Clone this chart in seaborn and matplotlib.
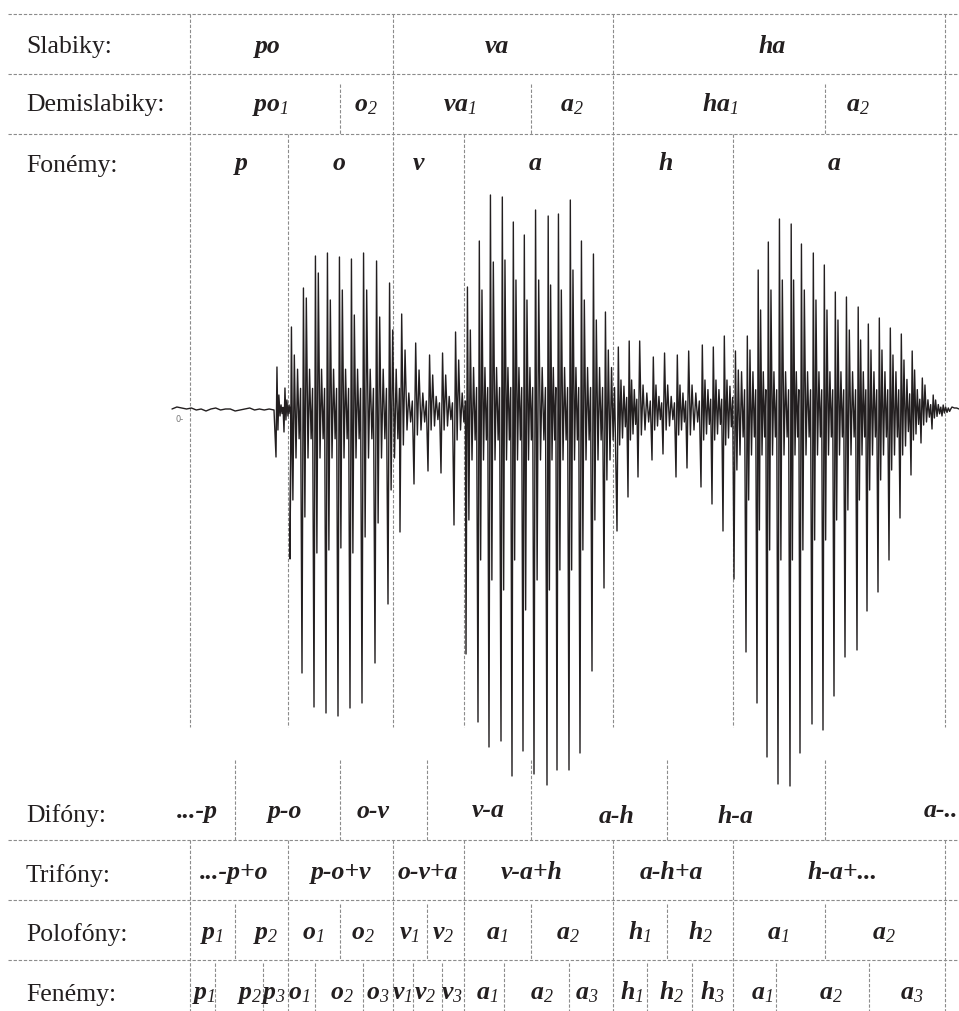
import numpy as np
import pandas as pd
import matplotlib
matplotlib.use("Agg")
import matplotlib.pyplot as plt
import seaborn as sns

# ---------------- data ----------------
BASE_Y = 410          # pixel row of the zero line of the waveform

# horizontal table lines (pixel rows)
row_lines = [14, 74, 134, 840, 900, 960]

# segment boundaries (time axis, same units as the waveform x)
syllable_bounds = [190, 393, 613, 945]
phoneme_only_bounds = [288, 464, 733]
demi_extra_bounds = [340, 531, 825]
diphone_bounds = [235, 340, 427, 531, 667, 825]
fenem_extra_bounds = [215, 263, 315, 363, 413, 442, 504, 569, 647, 692, 776, 869]

row_names = ["Slabiky:", "Demislabiky:", "Fonémy:", "Difóny:", "Trifóny:", "Polofóny:", "Fenémy:"]
row_name_y = [53, 111, 172, 822, 882, 941, 1001]

syll_labels = ["po", "va", "ha"]
syll_x = [268, 497, 772]
syll_y = 53

demi_labels = [r"$\mathbfit{po}_{\mathit{1}}$", r"$\mathbfit{o}_{\mathit{2}}$", r"$\mathbfit{va}_{\mathit{1}}$",
               r"$\mathbfit{a}_{\mathit{2}}$", r"$\mathbfit{ha}_{\mathit{1}}$", r"$\mathbfit{a}_{\mathit{2}}$"]
demi_x = [270, 366, 460, 572, 720, 858]
demi_y = 111

phon_labels = ["p", "o", "v", "a", "h", "a"]
phon_x = [241, 339, 418, 535, 666, 834]
phon_y = 170

di_labels = ["...-p", "p-o", "o-v", "v-a", "a-h", "h-a", "a-.."]
di_x = [197, 285, 373, 488, 617, 735, 942]
di_y = [818, 818, 818, 817, 823, 823, 817]

tri_labels = ["...-p+o", "p-o+v", "o-v+a", "v-a+h", "a-h+a", "h-a+..."]
tri_x = [234, 341, 428, 532, 671, 843]
tri_y = 879

polo_labels = [r"$\mathbfit{p}_{\mathit{1}}$", r"$\mathbfit{p}_{\mathit{2}}$", r"$\mathbfit{o}_{\mathit{1}}$",
               r"$\mathbfit{o}_{\mathit{2}}$", r"$\mathbfit{v}_{\mathit{1}}$", r"$\mathbfit{v}_{\mathit{2}}$",
               r"$\mathbfit{a}_{\mathit{1}}$", r"$\mathbfit{a}_{\mathit{2}}$", r"$\mathbfit{h}_{\mathit{1}}$",
               r"$\mathbfit{h}_{\mathit{2}}$", r"$\mathbfit{a}_{\mathit{1}}$", r"$\mathbfit{a}_{\mathit{2}}$"]
polo_x = [212, 266, 313, 363, 409, 443, 497, 568, 640, 701, 778, 884]
polo_y = 939

fen_labels = [r"$\mathbfit{p}_{\mathit{1}}$", r"$\mathbfit{p}_{\mathit{2}}$", r"$\mathbfit{p}_{\mathit{3}}$",
              r"$\mathbfit{o}_{\mathit{1}}$", r"$\mathbfit{o}_{\mathit{2}}$", r"$\mathbfit{o}_{\mathit{3}}$",
              r"$\mathbfit{v}_{\mathit{1}}$", r"$\mathbfit{v}_{\mathit{2}}$", r"$\mathbfit{v}_{\mathit{3}}$",
              r"$\mathbfit{a}_{\mathit{1}}$", r"$\mathbfit{a}_{\mathit{2}}$", r"$\mathbfit{a}_{\mathit{3}}$",
              r"$\mathbfit{h}_{\mathit{1}}$", r"$\mathbfit{h}_{\mathit{2}}$", r"$\mathbfit{h}_{\mathit{3}}$",
              r"$\mathbfit{a}_{\mathit{1}}$", r"$\mathbfit{a}_{\mathit{2}}$", r"$\mathbfit{a}_{\mathit{3}}$"]
fen_x = [204, 250, 274, 299, 342, 378, 402, 425, 452, 487, 542, 587, 632, 672, 712, 762, 831, 912]
fen_y = 999

# waveform: silence before the onset (amplitudes, pixels above zero line)
noise_amp = [1, 3, 2, 1, 2, 0, 1, -1, 1, 2, 0, 1, 1, -1, 0, 1, 2, 0, 1, 0, 1, 0]
noise_start, noise_end = 172, 274

# pitch pulses: x of main negative peak, main neg / pos peaks, secondary neg / pos peaks
on_x = [276, 284]
on_dn = [-47, -22]
on_up = [43, 22]
on_dn2 = [-20, -10]
on_up2 = [15, 10]

o_x = [290, 302, 314, 326, 338, 350, 362, 375, 388]
o_dn = [-149, -263, -297, -303, -306, -298, -293, -253, -194]
o_up = [83, 122, 154, 157, 153, 151, 157, 149, 127]
o_dn2 = [-90, -107, -143, -140, -138, -143, -127, -113, -80]
o_up2 = [55, 112, 137, 110, 120, 95, 120, 93, 80]

v_x = [400, 414, 428, 441, 454]
v_dn = [-122, -74, -61, -63, -115]
v_up = [96, 67, 55, 57, 78]
v_dn2 = [-35, -25, -20, -20, -30]
v_up2 = [60, 40, 35, 35, 50]

a1_x = [466, 478, 489, 501, 512, 523, 534, 547, 557, 569, 580, 592, 604]
a1_dn = [-244, -312, -337, -331, -366, -341, -364, -375, -360, -360, -343, -261, -178]
a1_up = [123, 169, 215, 213, 188, 175, 200, 194, 196, 210, 169, 156, 98]
a1_dn2 = [-110, -150, -170, -180, -150, -200, -170, -180, -160, -160, -140, -110, -70]
a1_up2 = [80, 120, 148, 150, 130, 110, 130, 125, 120, 140, 110, 90, 60]

h_x = [617, 628, 638, 652, 663, 676, 687, 701, 712, 723]
h_dn = [-121, -87, -67, -50, -44, -67, -58, -77, -94, -121]
h_up = [63, 69, 69, 53, 57, 55, 59, 65, 63, 74]
h_dn2 = [-35, -30, -25, -20, -20, -25, -25, -30, -30, -35]
h_up2 = [30, 30, 25, 25, 25, 25, 25, 30, 30, 30]

a2_x = [734, 746, 757, 767, 778, 790, 800, 812, 823, 834, 845, 857, 867, 878, 889, 900, 911, 921, 932, 942]
a2_dn = [-169, -242, -293, -347, -374, -376, -343, -314, -320, -286, -247, -240, -201, -182, -150, -108, -65, -33, -19, -6]
a2_up = [59, 74, 140, 168, 191, 186, 166, 157, 145, 118, 113, 103, 86, 92, 82, 76, 59, 32, 15, 5]
a2_dn2 = [-60, -90, -120, -140, -150, -150, -140, -130, -130, -110, -100, -90, -80, -70, -60, -45, -30, -15, -8, -3]
a2_up2 = [40, 60, 100, 120, 130, 130, 120, 110, 100, 90, 80, 70, 60, 60, 55, 50, 40, 25, 10, 3]

core_amp = {"on": 6, "o": 48, "v": 20, "a1": 50, "h": 28, "a2": 45}
tail_amp = [3, 2, 2, 1]
tail_start, tail_end = 952, 959

# ---------------- build waveform path ----------------
SHAPE_F = [0.0, 0.12, 0.24, 0.36, 0.5, 0.63, 0.76, 0.88]


def pulse_path(xs, dn, up, dn2, up2, core):
    pts = []
    for i, x in enumerate(xs):
        T = xs[i + 1] - x if i + 1 < len(xs) else xs[i] - xs[i - 1]
        c = min(core, abs(dn2[i]) * 0.8)
        amps = [dn[i], up[i], dn2[i], up2[i], -c, 0.85 * c, -0.6 * c, 0.45 * c]
        pts += [(x + f * T, a) for f, a in zip(SHAPE_F, amps)]
    return pts


pts = list(zip(np.linspace(noise_start, noise_end, len(noise_amp)), noise_amp))
pts += pulse_path(on_x, on_dn, on_up, on_dn2, on_up2, core_amp["on"])
pts += pulse_path(o_x, o_dn, o_up, o_dn2, o_up2, core_amp["o"])
pts += pulse_path(v_x, v_dn, v_up, v_dn2, v_up2, core_amp["v"])
pts += pulse_path(a1_x, a1_dn, a1_up, a1_dn2, a1_up2, core_amp["a1"])
pts += pulse_path(h_x, h_dn, h_up, h_dn2, h_up2, core_amp["h"])
pts += pulse_path(a2_x, a2_dn, a2_up, a2_dn2, a2_up2, core_amp["a2"])
pts += list(zip(np.linspace(tail_start, tail_end, len(tail_amp)), tail_amp))
wave = pd.DataFrame(pts, columns=["t", "amp"])

# ---------------- figure ----------------
sns.set_theme(style="white")
plt.rcParams["font.family"] = ["Liberation Serif", "DejaVu Serif"]
plt.rcParams["mathtext.fontset"] = "custom"
plt.rcParams["mathtext.rm"] = "Liberation Serif:italic"
plt.rcParams["mathtext.it"] = "Liberation Serif:italic"
plt.rcParams["mathtext.bf"] = "Liberation Serif:bold"
plt.rcParams["mathtext.bfit"] = "Liberation Serif:italic:bold"

W, H = 959, 1011
fig = plt.figure(figsize=(W / 100, H / 100), dpi=100)
fig.patch.set_facecolor("white")

ax = fig.add_axes([0, 0, 1, 1])
ax.set_xlim(0, W)
ax.set_ylim(H, 0)
ax.axis("off")

wax = fig.add_axes([0, 0, 1, 1])
wax.patch.set_alpha(0)

INK = "#231f20"
GRID = "#8c8c8c"
dash = dict(colors=GRID, linewidths=0.8, linestyles=(0, (3, 1.6)))

# waveform
sns.lineplot(data=wave, x="t", y="amp", sort=False, estimator=None, ax=wax,
             color=INK, linewidth=1.0)
wax.set_xlim(0, W)
wax.set_ylim(BASE_Y - H, BASE_Y)
wax.axis("off")
wax.text(176, -10, "0-", fontsize=6, color="#777777", family="DejaVu Sans", va="center")

# horizontal lines
ax.hlines(row_lines, 8, W, **dash)

# vertical lines
ax.vlines(syllable_bounds, row_lines[0], 727, **dash)
ax.vlines(phoneme_only_bounds, row_lines[2], 727, **dash)
ax.vlines(demi_extra_bounds, 84, row_lines[2], **dash)
ax.vlines(diphone_bounds, 760, row_lines[3], **dash)
ax.vlines(syllable_bounds + phoneme_only_bounds, row_lines[3], H, **dash)
ax.vlines(diphone_bounds, row_lines[4] + 4, row_lines[5], **dash)
ax.vlines(fenem_extra_bounds, row_lines[5] + 3, H, **dash)

# row names
for name, y in zip(row_names, row_name_y):
    ax.text(26, y, name, fontsize=18.5, color=INK, ha="left", va="baseline")

seg = dict(fontsize=18.5, color=INK, ha="center", va="baseline",
           fontweight="bold", fontstyle="italic")
for s, x in zip(syll_labels, syll_x):
    ax.text(x, syll_y, s, **seg)
for s, x in zip(demi_labels, demi_x):
    ax.text(x, demi_y, s, **seg)
for s, x in zip(phon_labels, phon_x):
    ax.text(x, phon_y, s, **seg)
for s, x, y in zip(di_labels[:-1], di_x[:-1], di_y[:-1]):
    ax.text(x, y, s, **seg)
# last diphone label runs up to the right edge, as in the source figure
ax.text(W - 1, di_y[-1], di_labels[-1], **{**seg, "ha": "right"})
for s, x in zip(tri_labels, tri_x):
    ax.text(x, tri_y, s, **seg)
for s, x in zip(polo_labels, polo_x):
    ax.text(x, polo_y, s, **seg)
for s, x in zip(fen_labels, fen_x):
    ax.text(x, fen_y, s, **seg)

fig.savefig("out.png", dpi=100, facecolor="white")
